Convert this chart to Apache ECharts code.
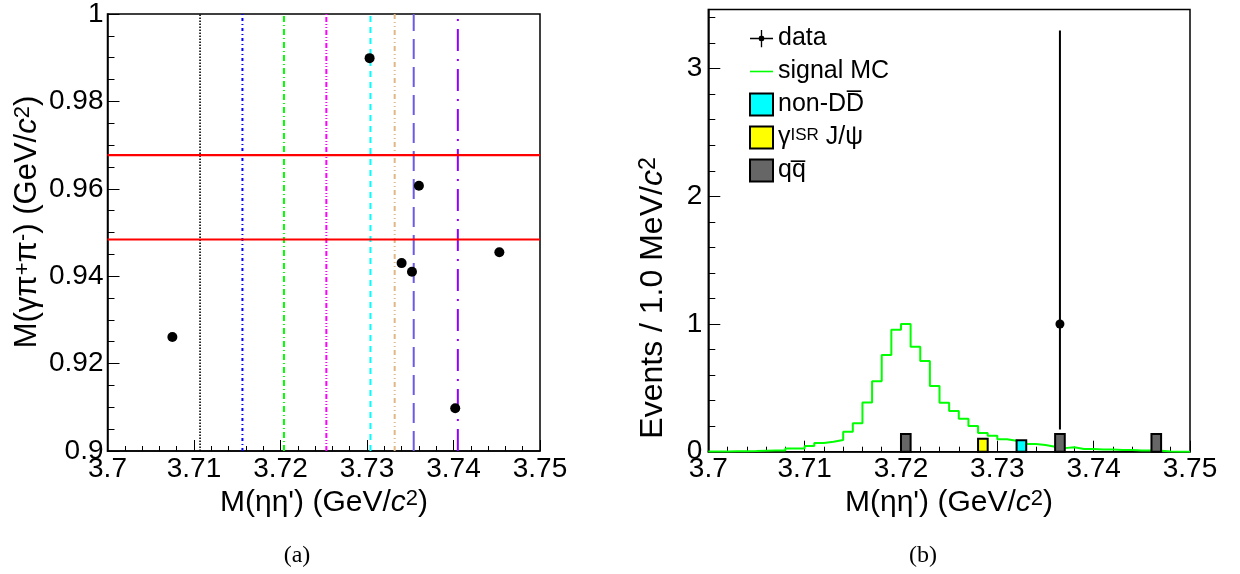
<!DOCTYPE html>
<html><head><meta charset="utf-8">
<script src="https://cdn.jsdelivr.net/npm/echarts@6/dist/echarts.min.js"></script>
<style>html,body{margin:0;padding:0;background:#fff}#c{width:1240px;height:574px}</style>
</head><body><div id="c"></div>
<script>
// ---------- data ----------
const xTickLabels = ['3.7', '3.71', '3.72', '3.73', '3.74', '3.75'];
const leftYTickLabels = ['0.9', '0.92', '0.94', '0.96', '0.98', '1'];
const rightYTickLabels = ['0', '1', '2', '3'];

// (a) candidate events: M(eta eta') vs M(gamma pi+ pi-)
const candX = [3.7075, 3.7303, 3.7340, 3.7352, 3.7360, 3.7402, 3.7453];
const candY = [0.9261, 0.9899, 0.9430, 0.9410, 0.9607, 0.9098, 0.9455];
// eta' mass window (red lines)
const massWindow = [0.9484, 0.9677];
// vertical cut positions
const cutX = [3.7107, 3.7156, 3.7204, 3.7253, 3.7304, 3.7332, 3.7354, 3.7405];

// (b) histogram: 50 bins of 1 MeV from 3.70 to 3.75
const histMin = 3.70, histMax = 3.75, nBins = 50;
const sigMC = [0.002, 0.002, 0.003, 0.003, 0.005, 0.008, 0.010, 0.010, 0.026, 0.026,
               0.044, 0.068, 0.078, 0.091, 0.157, 0.222, 0.386, 0.551, 0.757, 0.956,
               1.000, 0.822, 0.710, 0.514, 0.384, 0.319, 0.258, 0.201, 0.146, 0.125,
               0.097, 0.086, 0.078, 0.060, 0.052, 0.039, 0.028, 0.034, 0.021, 0.021,
               0.018, 0.018, 0.013, 0.013, 0.010, 0.010, 0.008, 0.002, 0.000, 0.000];
// background bins [low edge, high edge, content]
const nonDD   = [[3.732, 3.733, 0.090]];
const isrJpsi = [[3.728, 3.729, 0.102]];
const qqbar   = [[3.720, 3.721, 0.138], [3.736, 3.737, 0.138], [3.746, 3.747, 0.138]];
// data point with asymmetric Poisson errors
const dataX = [3.7365], dataY = [1], dataErrLo = [0.173], dataErrHi = [3.299];

// ---------- styles ----------
const FONT = 'Liberation Sans, Arial, Helvetica, sans-serif';
const cutStyles = [
  {color: '#000000', width: 1.6, type: [1.5, 1.5]},
  {color: '#0000ff', width: 2, type: [3, 3, 1, 3]},
  {color: '#00ff00', width: 2, type: [6, 3, 1, 3]},
  {color: '#ff00ff', width: 2, type: [5, 2, 1, 2, 1, 2]},
  {color: '#00ffff', width: 2, type: [6, 5]},
  {color: '#deb887', width: 2, type: [5, 3, 1, 3, 1, 3]},
  {color: '#6a5ae6', width: 2, type: [20, 8]},
  {color: '#8f00ff', width: 2, type: [22, 8, 2, 8]}
];

// ---------- build ----------
const scatterData = candX.map((x, i) => [x, candY[i]]);
const stepData = [];
for (let i = 0; i < nBins; i++) {
  stepData.push([histMin + i * (histMax - histMin) / nBins, sigMC[i]]);
}
stepData.push([histMax, sigMC[nBins - 1]]);
const errData = dataX.map((x, i) => [x, dataErrLo[i], dataErrHi[i]]);
const ptData = dataX.map((x, i) => [x, dataY[i]]);

function barRender(fill) {
  return function (params, api) {
    const p0 = api.coord([api.value(0), 0]);
    const p1 = api.coord([api.value(1), api.value(2)]);
    return {type: 'rect', shape: {x: p0[0], y: p1[1], width: p1[0] - p0[0], height: p0[1] - p1[1]},
      style: {fill: fill, stroke: '#000', lineWidth: 2}};
  };
}

const axisCommon = {
  axisLine: {onZero: false, lineStyle: {color: '#000', width: 1.5}},
  axisTick: {inside: true, length: 12, lineStyle: {color: '#000', width: 1}},
  minorTick: {show: true, length: 6, lineStyle: {color: '#000', width: 1}},
  splitLine: {show: false}, minorSplitLine: {show: false},
  axisLabel: {fontSize: 28, fontFamily: FONT, color: '#000'}
};
function mk(extra) { return echarts.util.merge(echarts.util.clone(axisCommon), extra, true); }

const chart = echarts.init(document.getElementById('c'), null, {renderer: 'canvas'});
function richFor(size) {
  return {
    i: {fontSize: size, fontFamily: FONT, fontStyle: 'italic', fill: '#000', color: '#000'},
    sup: {fontSize: Math.round(size * 0.72), fontFamily: FONT, verticalAlign: 'top', lineHeight: Math.round(size * 0.62), fill: '#000', color: '#000'}
  };
}

// cut-line series (vertical) and mass-window series (horizontal)
const cutSeries = cutX.map((x, i) => ({
  type: 'line', xAxisIndex: 0, yAxisIndex: 0, data: [[x, 0.9], [x, 1.0]], symbol: 'none', silent: true,
  lineStyle: cutStyles[i], z: 1
}));
const windowSeries = massWindow.map(y => ({
  type: 'line', xAxisIndex: 0, yAxisIndex: 0, data: [[3.70, y], [3.75, y]], symbol: 'none', silent: true,
  lineStyle: {color: '#ff0000', width: 2.2}, z: 2
}));

chart.setOption({
  animation: false,
  backgroundColor: '#fff',
  grid: [
    {left: 107.5, top: 9.5, width: 432.5, height: 441.5, show: true, borderColor: '#000', borderWidth: 1.5},
    {left: 708.3, top: 9.5, width: 481.7, height: 442.2, show: true, borderColor: '#000', borderWidth: 1.5}
  ],
  xAxis: [
    mk({gridIndex: 0, type: 'value', min: 3.70, max: 3.75, interval: 0.01,
        axisTick: {length: 11}, minorTick: {splitNumber: 5, length: 5},
        axisLabel: {margin: 4, formatter: (v, i) => xTickLabels[i]}}),
    mk({gridIndex: 1, type: 'value', min: 3.70, max: 3.75, interval: 0.01,
        axisTick: {length: 11}, minorTick: {splitNumber: 5, length: 5},
        axisLabel: {margin: 4, formatter: (v, i) => xTickLabels[i]}})
  ],
  yAxis: [
    mk({gridIndex: 0, type: 'value', min: 0.9, max: 1.0, interval: 0.02, position: 'left',
        minorTick: {splitNumber: 4, length: 7},
        axisLabel: {margin: 4, formatter: (v, i) => leftYTickLabels[i]}}),
    mk({gridIndex: 1, type: 'value', min: 0, max: 3.463, interval: 1, position: 'left',
        minorTick: {show: false},
        axisLabel: {margin: 6, formatter: (v, i) => (rightYTickLabels[i] !== undefined ? rightYTickLabels[i] : '')}}),
    mk({gridIndex: 1, type: 'value', min: 0, max: 3.463, interval: 0.2, position: 'left',
        axisLine: {show: false}, axisLabel: {show: false}, minorTick: {show: false},
        axisTick: {length: 7}})
  ],
  legend: {
    orient: 'vertical', left: 749, top: 26, padding: 0, itemWidth: 23, itemHeight: 22, itemGap: 8,
    textStyle: {fontSize: 25, fontFamily: FONT, color: '#000', lineHeight: 22, rich: {
      sup: {fontSize: 17, fontFamily: FONT, verticalAlign: 'top', lineHeight: 12, color: '#000'}
    }},
    formatter: function (name) {
      if (name === 'nonDD') return 'non-DD\u0305';
      if (name === 'isr') return '\u03b3{sup|ISR} J/\u03c8';
      if (name === 'qq') return 'qq\u0305';
      return name;
    },
    selectedMode: false,
    data: [
      {name: 'data', icon: 'path://M0,8.3H24V9.7H0Z M11.3,0H12.7V18H11.3Z M12,5.8L14.3,6.7L15.2,9L14.3,11.3L12,12.2L9.7,11.3L8.8,9L9.7,6.7Z',
       itemStyle: {color: '#000', borderWidth: 0}},
      {name: 'signal MC', icon: 'path://M0,0H23V1.6H0Z', itemStyle: {color: '#00ff00', borderWidth: 0}},
      {name: 'nonDD', icon: 'rect', itemStyle: {color: '#00ffff', borderColor: '#000', borderWidth: 2}},
      {name: 'isr', icon: 'rect', itemStyle: {color: '#ffff00', borderColor: '#000', borderWidth: 2}},
      {name: 'qq', icon: 'rect', itemStyle: {color: '#666666', borderColor: '#000', borderWidth: 2}}
    ]
  },
  series: cutSeries.concat(windowSeries).concat([
    {type: 'scatter', name: 'cand', xAxisIndex: 0, yAxisIndex: 0, data: scatterData,
     symbol: 'circle', symbolSize: 10, itemStyle: {color: '#000', opacity: 1}, z: 5},
    // ---- panel (b) ----
    {type: 'line', name: 'signal MC', xAxisIndex: 1, yAxisIndex: 1, data: stepData, step: 'end',
     symbol: 'none', lineStyle: {color: '#00ff00', width: 2}, itemStyle: {color: '#00ff00'}, z: 3},
    {type: 'custom', name: 'nonDD', xAxisIndex: 1, yAxisIndex: 1, data: nonDD, renderItem: barRender('#00ffff'),
     itemStyle: {color: '#00ffff'}, z: 4},
    {type: 'custom', name: 'isr', xAxisIndex: 1, yAxisIndex: 1, data: isrJpsi, renderItem: barRender('#ffff00'),
     itemStyle: {color: '#ffff00'}, z: 4},
    {type: 'custom', name: 'qq', xAxisIndex: 1, yAxisIndex: 1, data: qqbar, renderItem: barRender('#666666'),
     itemStyle: {color: '#666666'}, z: 4},
    {type: 'custom', name: 'data', xAxisIndex: 1, yAxisIndex: 1, data: errData, z: 5,
     itemStyle: {color: '#000'},
     renderItem: function (params, api) {
       const a = api.coord([api.value(0), api.value(1)]);
       const b = api.coord([api.value(0), api.value(2)]);
       return {type: 'line', shape: {x1: a[0], y1: a[1], x2: b[0], y2: b[1]}, style: {stroke: '#000', lineWidth: 2}};
     }},
    {type: 'scatter', name: 'data', xAxisIndex: 1, yAxisIndex: 1, data: ptData, symbol: 'circle', symbolSize: 9,
     itemStyle: {color: '#000', opacity: 1}, z: 6}
  ]),
  graphic: [
    {type: 'text', x: 324, y: 503, style: {text: "M(\u03b7\u03b7') (GeV/{i|c}{sup|2})", fontSize: 30, fontFamily: FONT, fill: '#000',
      align: 'center', verticalAlign: 'middle', rich: richFor(30)}},
    {type: 'text', x: 949, y: 503, style: {text: "M(\u03b7\u03b7') (GeV/{i|c}{sup|2})", fontSize: 30, fontFamily: FONT, fill: '#000',
      align: 'center', verticalAlign: 'middle', rich: richFor(30)}},
    {type: 'text', x: 27, y: 222, rotation: Math.PI / 2, style: {text: 'M(\u03b3\u03c0{sup|+}\u03c0{sup|-}) (GeV/{i|c}{sup|2})', fontSize: 31, fontFamily: FONT, fill: '#000',
      align: 'center', verticalAlign: 'middle', rich: richFor(31)}},
    {type: 'text', x: 653, y: 298, rotation: Math.PI / 2, style: {text: 'Events / 1.0 MeV/{i|c}{sup|2}', fontSize: 32, fontFamily: FONT, fill: '#000',
      align: 'center', verticalAlign: 'middle', rich: richFor(32)}},
    {type: 'text', x: 297, y: 556, style: {text: '(a)', fontSize: 24, fontFamily: 'Liberation Serif, DejaVu Serif, serif', fill: '#000',
      align: 'center', verticalAlign: 'middle'}},
    {type: 'text', x: 923, y: 556, style: {text: '(b)', fontSize: 24, fontFamily: 'Liberation Serif, DejaVu Serif, serif', fill: '#000',
      align: 'center', verticalAlign: 'middle'}}
  ]
});
</script></body></html>
